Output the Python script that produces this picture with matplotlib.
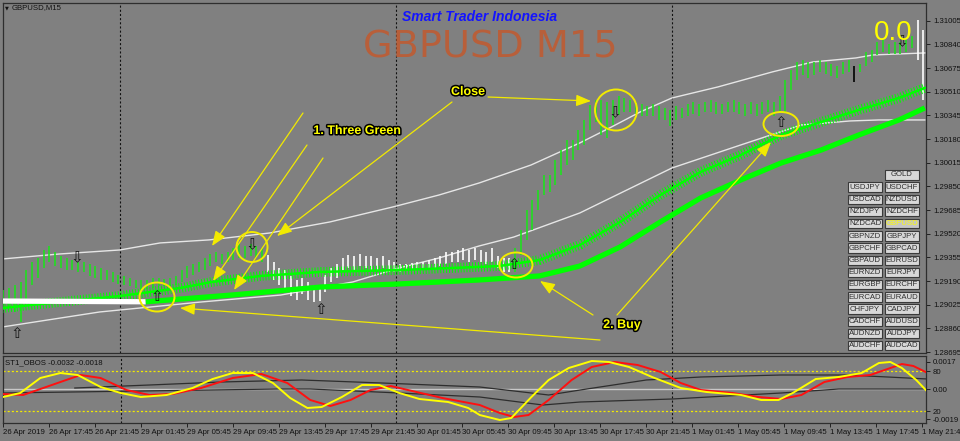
import numpy as np
import matplotlib
matplotlib.use('Agg')
import matplotlib.pyplot as plt
from matplotlib.patches import Ellipse, Rectangle
import matplotlib.patheffects as pe

plt.rcParams['lines.scale_dashes'] = False

# ------------------------------------------------------------------ data
BASE = 1.28  # prices below are in points (1e-5) above 1.28000

# M30-sized bars (two M15 bars each), high/low in points
high_pts = [1128, 1142, 1163, 1184, 1267, 1323, 1351, 1407, 1435, 1393,
            1365, 1351, 1337, 1323, 1323, 1309, 1295, 1281, 1267, 1254,
            1233, 1226, 1212, 1198, 1198, 1198, 1212, 1212, 1205, 1212,
            1226, 1267, 1295, 1309, 1323, 1351, 1379, 1393, 1379, 1393,
            1421, 1449, 1435, 1449, 1435, 1421, 1372, 1323, 1281, 1267,
            1226, 1198, 1212, 1184, 1163, 1156, 1233, 1281, 1309, 1351,
            1372, 1365, 1379, 1365, 1365, 1351, 1365, 1337, 1323, 1309,
            1309, 1316, 1323, 1323, 1337, 1351, 1365, 1393, 1393, 1407,
            1421, 1407, 1421, 1407, 1393, 1421, 1365, 1351, 1351, 1421,
            1546, 1686, 1755, 1825, 1930, 1930, 2034, 2104, 2174, 2174,
            2243, 2313, 2417, 2452, 2452, 2438, 2452, 2480, 2466, 2452,
            2438, 2424, 2411, 2424, 2411, 2397, 2383, 2411, 2397, 2424,
            2438, 2424, 2438, 2452, 2438, 2424, 2438, 2452, 2438, 2424,
            2438, 2424, 2438, 2452, 2438, 2480, 2592, 2661, 2717, 2731,
            2717, 2717, 2731, 2717, 2703, 2689, 2717, 2731, 2689, 2703,
            2787, 2801, 2857, 2871, 2843, 2857, 2857, 2871, 2898, 3010,
            2940]
low_pts = [989, 1002, 975, 905, 1058, 1163, 1212, 1281, 1323, 1295,
           1281, 1267, 1267, 1254, 1254, 1226, 1212, 1198, 1198, 1184,
           1170, 1163, 1156, 1142, 1128, 1135, 1142, 1156, 1156, 1156,
           1163, 1184, 1212, 1233, 1254, 1267, 1295, 1323, 1309, 1323,
           1337, 1351, 1351, 1365, 1351, 1323, 1254, 1198, 1163, 1142,
           1086, 1058, 1100, 1058, 1044, 1051, 1114, 1184, 1212, 1267,
           1281, 1267, 1295, 1281, 1267, 1267, 1281, 1254, 1254, 1254,
           1260, 1267, 1267, 1281, 1281, 1281, 1295, 1309, 1323, 1323,
           1337, 1323, 1337, 1323, 1309, 1323, 1281, 1254, 1254, 1254,
           1372, 1477, 1546, 1686, 1790, 1811, 1860, 1930, 1999, 2034,
           2104, 2139, 2243, 2299, 2208, 2187, 2278, 2348, 2369, 2369,
           2355, 2341, 2341, 2341, 2313, 2313, 2271, 2313, 2327, 2341,
           2355, 2341, 2369, 2369, 2355, 2355, 2369, 2369, 2355, 2341,
           2355, 2341, 2355, 2369, 2341, 2369, 2369, 2522, 2592, 2627,
           2606, 2627, 2648, 2634, 2620, 2606, 2634, 2648, 2578, 2648,
           2689, 2717, 2766, 2787, 2773, 2773, 2773, 2787, 2815, 2731,
           2452]
# indicator state of each bar: g = trend, w = neutral, k = other
bar_state = ['g'] * 46 + ['w'] * 43 + ['g'] * 59 + ['k'] + ['g'] * 10 + ['w'] * 2

# moving averages / bands (bar index in M15 bars, value in points)
upper_bar = [0, 20, 41, 55, 72, 93, 114, 136, 152, 166, 184, 201, 212, 222, 233, 249, 268, 282, 297, 303, 321]
upper_pts = [1344, 1379, 1407, 1456, 1477, 1525, 1602, 1707, 1790, 1874, 1999, 2153, 2264, 2369, 2466, 2543,
             2648, 2717, 2745, 2766, 2780]
lower_bar = [0, 34, 69, 97, 122, 138, 152, 166, 178, 201, 233, 257, 278, 295, 305, 321]
lower_pts = [870, 975, 1044, 1093, 1184, 1281, 1351, 1435, 1497, 1665, 1978, 2139, 2278, 2306, 2313, 2313]
medium_bar = [0, 20, 41, 62, 73, 90, 111, 138, 156, 173, 187, 201, 215, 229, 243, 257, 271, 285, 298, 312, 321]
medium_pts = [1002, 1044, 1086, 1142, 1184, 1226, 1254, 1267, 1281, 1295, 1337, 1442, 1602, 1790, 1951, 2069,
              2208, 2299, 2383, 2466, 2536]
slow_bar = [0, 50, 80, 111, 138, 166, 187, 201, 215, 229, 243, 257, 271, 285, 298, 312, 321]
slow_pts = [1051, 1046, 1093, 1149, 1170, 1198, 1226, 1295, 1428, 1602, 1769, 1895, 2013, 2104, 2208, 2313, 2397]

# signal arrows
sig_bar = [5, 26, 54, 87, 111, 178, 213, 271, 313]
sig_pts = [828, 1351, 1086, 1442, 989, 1309, 2362, 2292, 2857]
sig_dir = ['up', 'down', 'up', 'down', 'up', 'up', 'down', 'up', 'down']

# ST1_OBOS oscillator
yel_bar = [0, 6, 13, 20, 26, 34, 41, 48, 57, 66, 73, 80, 87, 94, 100, 106, 111, 118, 125, 131,
           138, 145, 155, 162, 166, 173, 177, 184, 190, 197, 205, 211, 218, 226, 236, 245, 257, 264, 270, 275,
           283, 291, 299, 305, 309, 313, 318, 322]
yel_val = [41, 47, 69.5, 77, 74, 56, 47, 41, 44, 54.5, 68, 77, 77, 62, 39.5, 24.5, 26, 41, 59, 59,
           47, 38, 33.5, 24.5, 14, 6.5, 9.5, 41, 66.5, 84.5, 95, 93.5, 86, 71, 54.5, 48.5, 44, 36.5, 36.5, 47,
           68, 71, 77, 92, 93.5, 84.5, 66.5, 48.5]
red_bar = [0, 7, 17, 27, 34, 43, 51, 59, 69, 80, 90, 99, 107, 114, 121, 128, 135, 144, 153, 166,
           173, 178, 183, 190, 198, 205, 213, 221, 229, 236, 243, 254, 263, 271, 278, 286, 294, 302, 310, 313,
           317, 322]
red_val = [45.5, 44, 59, 74, 69.5, 51.5, 44, 45.5, 54.5, 69.5, 75.5, 62, 36.5, 27.5, 36.5, 51.5, 57.5, 48.5,
           39.5, 29, 17, 11, 14, 36.5, 66.5, 86, 93.5, 89, 78.5, 62, 51.5, 47, 41, 38, 44, 63.5, 71, 74, 86, 90.5,
           87.5, 77]
dark1_bar = [0, 48, 96, 107, 138, 166, 188, 201, 233, 271, 291, 322]
dark1_val = [47, 50, 53, 53, 47, 41, 29, 33.5, 38, 47, 53, 53]
dark2_bar = [25, 51, 76, 104, 132, 166, 190, 201, 224, 243, 271, 294, 322]
dark2_val = [54.5, 59, 63.5, 66.5, 62, 56, 44, 51.5, 66.5, 71, 74, 74, 68]

# axis labels
price_ticks = [1.31005, 1.30840, 1.30675, 1.30510, 1.30345, 1.30180, 1.30015, 1.29850,
               1.29685, 1.29520, 1.29355, 1.29190, 1.29025, 1.28860, 1.28695]
time_labels = ['26 Apr 2019', '26 Apr 17:45', '26 Apr 21:45', '29 Apr 01:45', '29 Apr 05:45',
               '29 Apr 09:45', '29 Apr 13:45', '29 Apr 17:45', '29 Apr 21:45', '30 Apr 01:45',
               '30 Apr 05:45', '30 Apr 09:45', '30 Apr 13:45', '30 Apr 17:45', '30 Apr 21:45',
               '1 May 01:45', '1 May 05:45', '1 May 09:45', '1 May 13:45', '1 May 17:45', '1 May 21:45']
day_breaks = [41, 137, 233]
osc_ticks = [8, 20, 53, 80, 93.5]
osc_tick_labels = ['-0.0019', '20', '0.00', '80', '0.0017']

pairs_left = ['USDJPY', 'USDCAD', 'NZDJPY', 'NZDCAD', 'GBPNZD', 'GBPCHF', 'GBPAUD', 'EURNZD',
              'EURGBP', 'EURCAD', 'CHFJPY', 'CADCHF', 'AUDNZD', 'AUDCHF']
pairs_right = ['USDCHF', 'NZDUSD', 'NZDCHF', 'GBPUSD', 'GBPJPY', 'GBPCAD', 'EURUSD', 'EURJPY',
               'EURCHF', 'EURAUD', 'CADJPY', 'AUDUSD', 'AUDJPY', 'AUDCAD']

# ------------------------------------------------------------------ figure
W, H = 960, 441
BG = '#808080'
LIME = '#00ff00'
YEL = '#f2ea00'
SPINE = '#2e2e2e'
TICKFONT = dict(family='Liberation Sans', size=5.6)

fig = plt.figure(figsize=(W / 100, H / 100), dpi=100, facecolor=BG)


def rect(x0, y0, x1, y1):
    return [x0 / W, 1 - y1 / H, (x1 - x0) / W, (y1 - y0) / H]


ax = fig.add_axes(rect(3, 3, 926, 353), facecolor=BG)
axi = fig.add_axes(rect(3, 356, 926, 423), facecolor=BG)
XLIM = (0.35, 321.4)

p = lambda pts: BASE + np.asarray(pts, dtype=float) / 1e5

# ---- main panel
bar_x = np.arange(len(high_pts)) * 2 + 0.5
colmap = {'g': '#1fe01f', 'w': '#ffffff', 'k': '#000000'}
bar_cols = [colmap[s] for s in bar_state]
ax.vlines(bar_x, p(low_pts), p(high_pts), colors=bar_cols, lw=1.2, zorder=3)

ax.plot(upper_bar, p(upper_pts), color='#e6e6e6', lw=1.0, zorder=2)
ax.plot(lower_bar, p(lower_pts), color='#e6e6e6', lw=1.0, zorder=2)

# hatched medium average
ax.plot(medium_bar, p(medium_pts), color=LIME, lw=7.0, dashes=(0.7, 1.4),
        solid_capstyle='butt', dash_capstyle='butt', zorder=4)
ax.plot(medium_bar, p(medium_pts), color=LIME, lw=1.8, zorder=4)

# thick slow average
ax.plot(slow_bar[:2], p(slow_pts[:2]), color='#ffffff', lw=3.8, zorder=5, solid_capstyle='butt')
ax.plot(slow_bar[1:], p(slow_pts[1:]), color=LIME, lw=3.8, zorder=5, solid_capstyle='butt')

for b, v, d in zip(sig_bar, sig_pts, sig_dir):
    ax.text(b, p(v), '⇧' if d == 'up' else '⇩', ha='center', va='center',
            fontsize=11, color='#151515', family='DejaVu Sans', zorder=6)

for b in day_breaks:
    ax.axvline(b, color='#111111', lw=0.8, ls=(0, (1.5, 1.5)), zorder=1)
    axi.axvline(b, color='#111111', lw=0.8, ls=(0, (1.5, 1.5)), zorder=1)

ax.set_xlim(*XLIM)
ax.set_ylim(1.28689, 1.31128)
ax.set_xticks([])
ax.yaxis.tick_right()
ax.set_yticks(price_ticks)
ax.set_yticklabels([f'{t:.5f}' for t in price_ticks], **TICKFONT, color='#111111')
ax.tick_params(axis='y', length=3, width=0.7, pad=2, colors='#222222')

# ---- oscillator panel
axi.axhline(80, color=YEL, lw=0.9, ls=(0, (1.5, 1.5)), zorder=1)
axi.axhline(20, color=YEL, lw=0.9, ls=(0, (1.5, 1.5)), zorder=1)
axi.axhline(53, color='#c8c8c8', lw=1.0, zorder=1)
axi.plot(dark1_bar, dark1_val, color='#2e2e2e', lw=0.9, zorder=2)
axi.plot(dark2_bar, dark2_val, color='#2e2e2e', lw=0.9, zorder=2)
axi.plot(red_bar, red_val, color='#ff1010', lw=1.4, zorder=3)
axi.plot(yel_bar, yel_val, color='#ffff00', lw=1.4, zorder=4)
axi.set_xlim(*XLIM)
axi.set_ylim(2, 102.5)
axi.yaxis.tick_right()
axi.set_yticks(osc_ticks)
axi.set_yticklabels(osc_tick_labels, **TICKFONT, color='#111111')
axi.tick_params(axis='y', length=3, width=0.7, pad=2, colors='#222222')
axi.set_xticks(np.arange(len(time_labels)) * 16)
axi.set_xticklabels(time_labels, **TICKFONT, color='#111111')
for lab in axi.get_xticklabels():
    lab.set_ha('left')
axi.tick_params(axis='x', length=3, width=0.7, pad=1.5, colors='#222222')
for lab in axi.get_xticklabels() + axi.get_yticklabels() + ax.get_yticklabels():
    lab.set_color('#111111')

for a in (ax, axi):
    for s in a.spines.values():
        s.set_color(SPINE)
        s.set_linewidth(0.9)

# ---- overlay (pixel coordinates, origin top-left)
ov = fig.add_axes([0, 0, 1, 1], zorder=10)
ov.set_xlim(0, W)
ov.set_ylim(H, 0)
ov.axis('off')
ov.patch.set_alpha(0)

ov.text(7, 7.5, '▼', fontsize=3.6, color='#111111', ha='center', va='center', family='DejaVu Sans')
ov.text(12, 7.5, 'GBPUSD,M15', ha='left', va='center', color='#111111', **TICKFONT)
ov.text(5, 363, 'ST1_OBOS -0.0032 -0.0018', ha='left', va='center', color='#111111', **TICKFONT)

ov.text(480, 17, 'Smart Trader Indonesia', ha='center', va='center', color='#1414ff',
        family='Liberation Sans', fontsize=10, fontweight='bold', fontstyle='italic')
ov.text(490, 48, 'GBPUSD M15', ha='center', va='center', color='#b85f3a',
        family='DejaVu Sans', fontsize=27.5)
ov.text(893, 33, '0.0', ha='center', va='center', color='#ffff00',
        family='Liberation Sans', fontsize=20)

stroke = [pe.withStroke(linewidth=2.2, foreground='black')]
lab_kw = dict(ha='center', va='center', color='#ffff00', family='Liberation Sans',
              fontsize=9, fontweight='bold', path_effects=stroke)
ov.text(357, 131, '1. Three Green', **lab_kw)
ov.text(468, 92, 'Close', **lab_kw)
ov.text(622, 325, '2. Buy', **lab_kw)

arrows = [((303, 113), (212, 246)), ((307, 145), (213, 281)), ((323, 158), (234, 290)),
          ((452, 102), (277, 236)), ((488, 97), (591, 101)),
          ((593, 315), (540, 281)), ((617, 315), (771, 142)), ((600, 340), (180, 308))]
for (x0, y0), (x1, y1) in arrows:
    ov.annotate('', xy=(x1, y1), xytext=(x0, y0),
                arrowprops=dict(arrowstyle='-|>,head_length=0.9,head_width=0.35', color=YEL,
                                lw=0.9, shrinkA=0, shrinkB=0, mutation_scale=10))

for (cx, cy, w, h) in [(157, 297, 35, 29), (252, 247, 31, 30), (516, 265, 33, 25),
                       (616, 110, 42, 41), (781, 124, 35, 24)]:
    ov.add_patch(Ellipse((cx, cy), w, h, fill=False, ec=YEL, lw=1.4))

# symbol buttons
btn_kw = dict(ha='center', va='center', family='Liberation Sans', fontsize=5.6)


def button(x, y, label, active=False):
    ov.add_patch(Rectangle((x, y), 34, 9.5, fc='#c6c6c6' if active else '#d8d8d8',
                           ec='#3a3a3a', lw=0.8))
    ov.text(x + 17, y + 5, label, color='#ffff00' if active else '#303030', **btn_kw)


button(885, 170, 'GOLD')
for i, (l, r) in enumerate(zip(pairs_left, pairs_right)):
    top = 182.3 + 12.2 * i
    button(848, top, l)
    button(885, top, r, active=(r == 'GBPUSD'))

fig.savefig('out.png', dpi=100, facecolor=BG)
